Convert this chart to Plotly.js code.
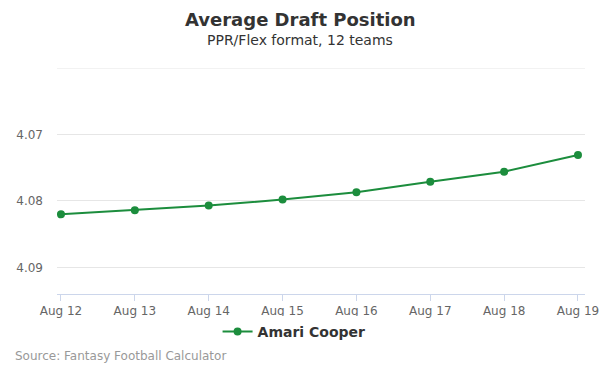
<!DOCTYPE html>
<html>
<head>
<meta charset="utf-8">
<script src="https://cdn.plot.ly/plotly-3.0.1.min.js"></script>
<style>html,body{margin:0;padding:0;background:#fff;}#chart{width:600px;height:375px;}</style>
</head>
<body>
<div id="chart"></div>
<script>
const dates = ["Aug 12", "Aug 13", "Aug 14", "Aug 15", "Aug 16", "Aug 17", "Aug 18", "Aug 19"];
const adp = [4.0820, 4.0814, 4.0807, 4.0798, 4.0787, 4.0771, 4.0756, 4.0731];
const seriesName = "Amari Cooper";
const yTickVals = [4.06, 4.07, 4.08, 4.09];
const yTickText = ["", "4.07", "4.08", "4.09"];

const font = "DejaVu Sans, Verdana, sans-serif";
const green = "#1c8d3d";

const trace = {
  x: dates, y: adp, name: seriesName, type: "scatter", mode: "lines+markers",
  line: {color: green, width: 2},
  marker: {color: green, size: 8},
  showlegend: true
};

const layout = {
  width: 600, height: 375,
  margin: {l: 57, r: 15, t: 68, b: 81},
  paper_bgcolor: "#fff", plot_bgcolor: "#fff",
  font: {family: font, color: "#666", size: 12},
  xaxis: {
    type: "category", range: [-0.054, 7.095],
    showgrid: false, zeroline: false,
    showline: true, linecolor: "#ccd6eb", linewidth: 1,
    ticks: "outside", ticklen: 6, tickcolor: "#ccd6eb",
    tickfont: {family: font, color: "#666", size: 12},
    fixedrange: true
  },
  yaxis: {
    range: [4.094, 4.06],
    tickvals: yTickVals, ticktext: yTickText,
    showgrid: true, gridcolor: "#e6e6e6", gridwidth: 1,
    zeroline: false, showline: false, ticks: "",
    ticklabelstandoff: 13,
    tickfont: {family: font, color: "#666", size: 12},
    fixedrange: true
  },
  shapes: [
    {type: "line", xref: "paper", yref: "y", x0: 0, x1: 1, y0: yTickVals[0], y1: yTickVals[0],
     line: {color: "#e6e6e6", width: 1}, layer: "below"}
  ],
  showlegend: true,
  legend: {
    orientation: "h", x: 0.449, xanchor: "center", y: -0.168, yanchor: "middle",
    font: {family: font, color: "#333", size: 14, weight: "bold"},
    itemwidth: 30
  },
  annotations: [
    {text: "<b>Average Draft Position</b>", xref: "paper", yref: "paper",
     x: 0.5 - (57 - 15) / 2 / 528, xanchor: "center", y: 1 + (68 - 19) / 226, yanchor: "middle",
     showarrow: false, font: {family: font, color: "#333", size: 18}},
    {text: "PPR/Flex format, 12 teams", xref: "paper", yref: "paper",
     x: 0.5 - (57 - 15) / 2 / 528, xanchor: "center", y: 1 + (68 - 40) / 226, yanchor: "middle",
     showarrow: false, font: {family: font, color: "#333", size: 14}},
    {text: "Source: Fantasy Football Calculator", xref: "paper", yref: "paper",
     x: (13 - 57) / 528, xanchor: "left", y: (294 - 356) / 226, yanchor: "middle",
     showarrow: false, font: {family: font, color: "#999", size: 12}}
  ]
};

Plotly.newPlot("chart", [trace], layout, {displayModeBar: false, staticPlot: true});
</script>
</body>
</html>
